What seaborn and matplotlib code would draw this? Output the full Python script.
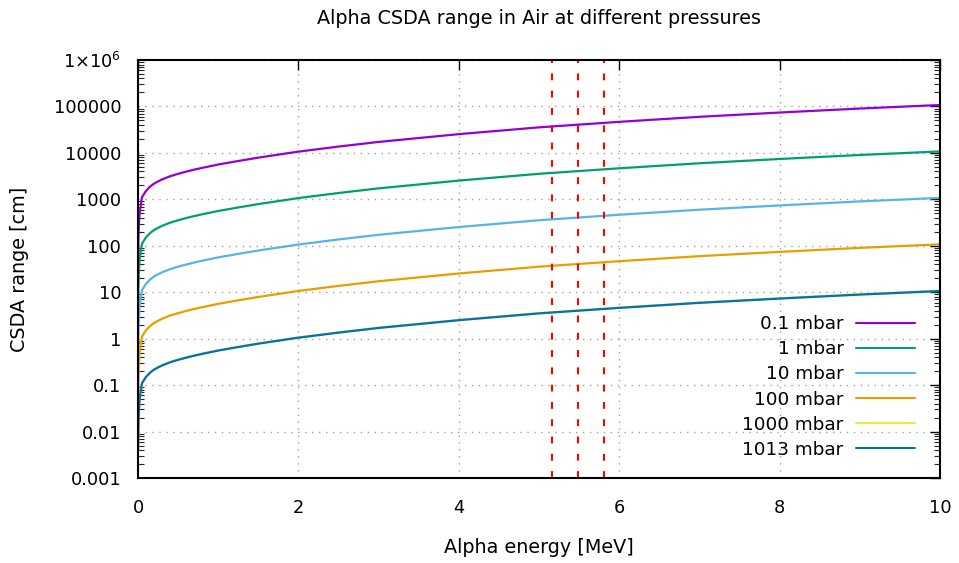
import matplotlib
matplotlib.use("Agg")
import matplotlib.pyplot as plt
import matplotlib.ticker as mticker
import numpy as np
import pandas as pd
import seaborn as sns

# ---- data ----
energy = [0.001, 0.002, 0.005, 0.01, 0.02, 0.05, 0.1, 0.15, 0.2, 0.25, 0.3, 0.4, 0.5, 0.6,
          0.7, 0.8, 0.9, 1.0, 1.25, 1.5, 2, 2.5, 3, 4, 5, 6, 7, 8, 9, 10]

range_0p1 = [40.5, 60.8, 121.6, 253.3, 506.5, 1114, 1520, 1874, 2178, 2431, 2684, 3140, 3546,
             3951, 4356, 4761, 5166, 5622, 6686, 7901, 10640, 13680, 17220, 25330, 35460,
             46600, 59770, 73950, 90160, 107400]
range_1 = [4.05, 6.08, 12.16, 25.33, 50.65, 111.4, 152, 187.4, 217.8, 243.1, 268.4, 314,
           354.6, 395.1, 435.6, 476.1, 516.6, 562.2, 668.6, 790.1, 1064, 1368, 1722, 2533,
           3546, 4660, 5977, 7395, 9016, 10740]
range_10 = [0.405, 0.608, 1.216, 2.533, 5.065, 11.14, 15.2, 18.74, 21.78, 24.31, 26.84, 31.4,
            35.46, 39.51, 43.56, 47.61, 51.66, 56.22, 66.86, 79.01, 106.4, 136.8, 172.2,
            253.3, 354.6, 466.0, 597.7, 739.5, 901.6, 1074]
range_100 = [0.0405, 0.0608, 0.1216, 0.2533, 0.5065, 1.114, 1.52, 1.874, 2.178, 2.431, 2.684,
             3.14, 3.546, 3.951, 4.356, 4.761, 5.166, 5.622, 6.686, 7.901, 10.64, 13.68, 17.22,
             25.33, 35.46, 46.60, 59.77, 73.95, 90.16, 107.4]
range_1000 = [0.00405, 0.00608, 0.01216, 0.02533, 0.05065, 0.1114, 0.152, 0.1874, 0.2178,
              0.2431, 0.2684, 0.314, 0.3546, 0.3951, 0.4356, 0.4761, 0.5166, 0.5622, 0.6686,
              0.7901, 1.064, 1.368, 1.722, 2.533, 3.546, 4.660, 5.977, 7.395, 9.016, 10.74]
range_1013 = [0.004, 0.006, 0.012, 0.025, 0.05, 0.11, 0.15, 0.185, 0.215, 0.24, 0.265, 0.31,
              0.35, 0.39, 0.43, 0.47, 0.51, 0.555, 0.66, 0.78, 1.05, 1.35, 1.7, 2.5, 3.5, 4.6,
              5.9, 7.3, 8.9, 10.6]

labels = ["0.1 mbar", "1 mbar", "10 mbar", "100 mbar", "1000 mbar", "1013 mbar"]
series = [range_0p1, range_1, range_10, range_100, range_1000, range_1013]
colors = ["#9400d3", "#009e73", "#56b4e9", "#e69f00", "#f0e442", "#0072b2"]

marker_energies = [5.157, 5.486, 5.805]

ytick_vals = [1e-3, 1e-2, 1e-1, 1, 10, 100, 1000, 1e4, 1e5, 1e6]
ytick_labels = ["0.001", "0.01", "0.1", "1", "10", "100", "1000", "10000", "100000",
                r"1$\times$10$^{6}$"]
xtick_vals = [0, 2, 4, 6, 8, 10]

# ---- build frame ----
rows = []
for lab, vals in zip(labels, series):
    for e, r in zip(energy, vals):
        rows.append({"energy": e, "range": r, "pressure": lab})
df = pd.DataFrame(rows)

sns.set_theme(style="white")
plt.rcParams["font.family"] = ["DejaVu Sans"]
plt.rcParams["mathtext.fontset"] = "dejavusans"
plt.rcParams["text.color"] = "black"
plt.rcParams["axes.labelcolor"] = "black"
FS_TICK = 12.8
FS_LAB = 13.8
FS_LEG = 13.2

fig = plt.figure(figsize=(9.59, 5.63), dpi=100)
ax = fig.add_axes([138 / 959, 1 - 478 / 563, 802 / 959, 418 / 563])

sns.lineplot(data=df, x="energy", y="range", hue="pressure", hue_order=labels,
             palette=colors, linewidth=1.6, errorbar=None, ax=ax, zorder=3)

for e in marker_energies:
    ax.axvline(e, color="#ff0000", linewidth=1.5, dashes=(3.3, 5.0), zorder=4)

ax.set_yscale("log")
ax.set_xlim(0, 10)
ax.set_ylim(1e-3, 1e6)

ax.yaxis.set_major_locator(mticker.FixedLocator(ytick_vals))
ax.yaxis.set_major_formatter(mticker.FixedFormatter(ytick_labels))
ax.yaxis.set_minor_locator(mticker.LogLocator(base=10, subs=np.arange(2, 10), numticks=100))
ax.yaxis.set_minor_formatter(mticker.NullFormatter())
ax.xaxis.set_major_locator(mticker.FixedLocator(xtick_vals))
ax.xaxis.set_minor_locator(mticker.NullLocator())

ax.tick_params(axis="both", which="major", direction="in", length=7, width=1.0,
               top=True, right=True, labelsize=FS_TICK, colors="black")
ax.tick_params(axis="x", which="major", pad=15)
ax.tick_params(axis="y", which="major", pad=12)
ax.tick_params(axis="y", which="minor", direction="in", length=4, width=0.8,
               left=True, right=True)

ax.grid(True, which="major", color="#a0a0a0", linestyle=(0, (1, 4)), linewidth=1.0)
ax.grid(False, which="minor")

for sp in ax.spines.values():
    sp.set_visible(True)
    sp.set_color("black")
    sp.set_linewidth(1.5)
    sp.set_zorder(5)

ax.set_xlabel("Alpha energy [MeV]", fontsize=FS_LAB, labelpad=15)
ax.set_ylabel("CSDA range [cm]", fontsize=FS_LAB, labelpad=18)
ax.set_title("Alpha CSDA range in Air at different pressures", fontsize=FS_LAB, pad=26)

leg = ax.legend(loc="lower right", frameon=False, fontsize=FS_LEG, markerfirst=False,
                handlelength=3.2, labelspacing=0.39, handletextpad=0.7,
                borderaxespad=0.3, bbox_to_anchor=(0.985, 0.015))
for line in leg.get_lines():
    line.set_linewidth(1.5)

fig.savefig("out.png", dpi=100)
